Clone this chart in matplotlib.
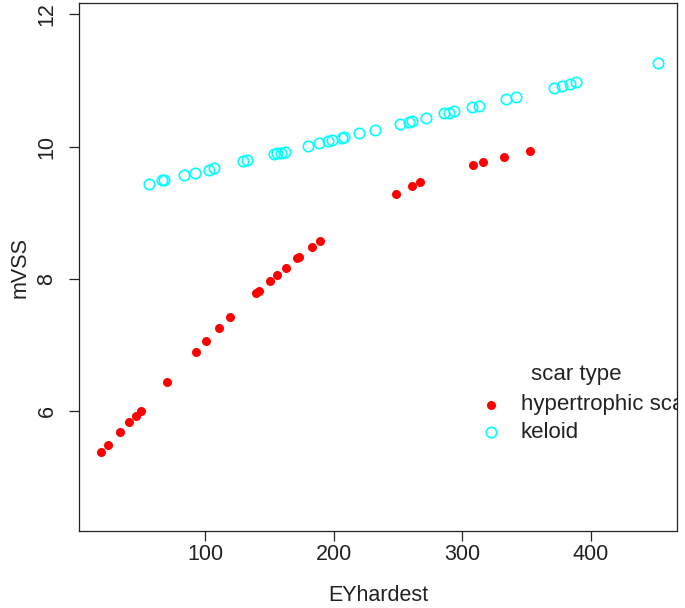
import matplotlib
matplotlib.use("Agg")
import matplotlib.pyplot as plt

plt.rcParams['font.family'] = ['Liberation Sans', 'DejaVu Sans']

# hypertrophic scar
hs_x = [19.1, 24.8, 33.9, 40.7, 46.1, 50.2, 70.5, 93.0, 100.5, 111.1, 119.7,
        139.7, 141.8, 150.5, 156.0, 162.8, 171.3, 172.9, 183.0, 189.4,
        248.3, 261.2, 267.2, 308.6, 316.2, 332.3, 352.5]
hs_y = [5.39, 5.49, 5.69, 5.83, 5.93, 6.01, 6.44, 6.90, 7.06, 7.26, 7.43,
        7.785, 7.82, 7.97, 8.06, 8.17, 8.31, 8.325, 8.48, 8.575,
        9.29, 9.40, 9.46, 9.72, 9.76, 9.84, 9.94]

# keloid
kl_x = [56.7, 66.3, 68.4, 83.9, 92.5, 102.9, 107.0, 129.8, 132.9, 153.7, 156.2,
        158.9, 162.0, 180.1, 188.4, 195.4, 198.5, 206.3, 208.0, 219.8, 232.4,
        251.4, 258.6, 260.7, 271.6, 286.1, 289.7, 293.9, 307.4, 313.1, 333.8,
        341.8, 371.6, 377.4, 384.1, 388.5, 452.5]
kl_y = [9.44, 9.49, 9.50, 9.57, 9.60, 9.65, 9.68, 9.78, 9.79, 9.885, 9.90,
        9.905, 9.92, 10.01, 10.05, 10.08, 10.10, 10.13, 10.14, 10.20, 10.25,
        10.34, 10.37, 10.38, 10.43, 10.50, 10.515, 10.535, 10.595, 10.615, 10.72,
        10.75, 10.89, 10.92, 10.95, 10.97, 11.26]

x_ticks = [100, 200, 300, 400]
y_ticks = [6, 8, 10, 12]
legend_title = "scar type"
legend_labels = ["hypertrophic scar", "keloid"]

fig = plt.figure(figsize=(6.85, 6.08), dpi=100)
ax = fig.add_axes([79/685, 1 - 531/608, 598/685, 528/608])

ax.plot(hs_x, hs_y, 'o', color='#ff0000', markersize=6.5, markeredgewidth=0, linestyle='none')
ax.plot(kl_x, kl_y, 'o', markerfacecolor='none', markeredgecolor='#00ffff',
        markersize=7.5, markeredgewidth=1.2, linestyle='none')

ax.set_xlim(2, 467)
ax.set_ylim(4.19, 12.17)
ax.set_xticks(x_ticks)
ax.set_yticks(y_ticks)
ax.tick_params(axis='both', direction='out', length=7.5, width=0.9, labelsize=15.5,
               colors='#222222')
ax.tick_params(axis='x', pad=2)
ax.tick_params(axis='y', pad=8)
for lab in ax.get_yticklabels():
    lab.set_rotation(90)
    lab.set_va('center')
for s in ax.spines.values():
    s.set_linewidth(0.9)
    s.set_color('#222222')

ax.set_xlabel("EYhardest", fontsize=15.5, labelpad=14, color='#222222')
ax.set_ylabel("mVSS", fontsize=15.5, labelpad=4, color='#222222')

# legend (clipped at plot region, as in R)
ax.text(0.831, 0.297, legend_title, transform=ax.transAxes, ha='center', va='center',
        fontsize=16, color='#222222', clip_on=True)
ax.plot([0.689], [0.239], 'o', transform=ax.transAxes, color='#ff0000',
        markersize=6.5, markeredgewidth=0, clip_on=True)
ax.plot([0.689], [0.1875], 'o', transform=ax.transAxes, markerfacecolor='none',
        markeredgecolor='#00ffff', markersize=7.5, markeredgewidth=1.2, clip_on=True)
for lab, yy in zip(legend_labels, [0.239, 0.1875]):
    ax.text(0.739, yy, lab, transform=ax.transAxes, ha='left', va='center',
            fontsize=16, color='#222222', clip_on=True)

fig.savefig("out.png", dpi=100)
